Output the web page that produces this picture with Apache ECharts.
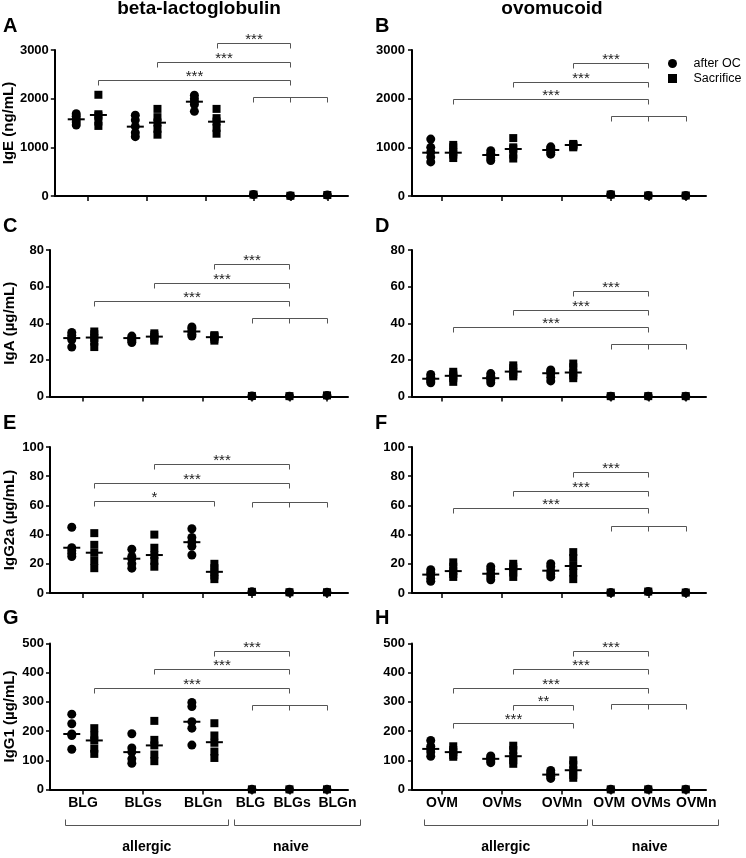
<!DOCTYPE html>
<html><head><meta charset="utf-8">
<script src="https://cdn.jsdelivr.net/npm/echarts@6/dist/echarts.min.js"></script>
<style>html,body{margin:0;padding:0;background:#fff}#c{width:746px;height:858px}</style>
</head><body><div id="c"></div><script>
// ---------- DATA ----------
const columnTitles = ['beta-lactoglobulin', 'ovomucoid'];
const panelLetters = ['A','B','C','D','E','F','G','H'];
const yNames = ['IgE (ng/mL)', 'IgA (µg/mL)', 'IgG2a (µg/mL)', 'IgG1 (µg/mL)'];
const yMax = [3000, 80, 100, 500];
const yStep = [1000, 20, 20, 100];
const labelsBLG = ['BLG','BLGs','BLGn','BLG','BLGs','BLGn'];
const labelsOVM = ['OVM','OVMs','OVMn','OVM','OVMs','OVMn'];
const groupNames = ['allergic','naive'];
const legendNames = ['after OC','Sacrifice'];

// IgE
const IgE_BLG_OC = [[1690,1640,1580,1520,1460],[1660,1560,1430,1300,1220],[2070,2000,1940,1880,1740]];
const IgE_BLG_S  = [[2080,1680,1650,1530,1440],[1790,1620,1510,1380,1260],[1790,1600,1530,1400,1280]];
const IgE_BLG_medOC = [1576,1425,1938];
const IgE_BLG_medS  = [1665,1507,1527];
const IgE_BLG_naive = [30,5,20];
const IgE_BLG_brackets = [['S2','N1',3144,'***'],['S1','N1',2753,'***'],['S0','N1',2384,'***'],['N0','N2',2034,'']];

const IgE_OVM_OC = [[1170,1000,900,800,700],[930,870,840,780,730],[1010,980,950,900,860]];
const IgE_OVM_S  = [[1050,1000,900,850,780],[1190,1000,970,850,770],[1070,1050,1040,1020,1000]];
const IgE_OVM_medOC = [890,842,945];
const IgE_OVM_medS  = [890,966,1048];
const IgE_OVM_naive = [30,10,10];
const IgE_OVM_brackets = [['S2','N1',2733,'***'],['S1','N1',2342,'***'],['S0','N1',1993,'***'],['N0','N2',1644,'']];

// IgA
const IgA_BLG_OC = [[35,33.5,32,31,27],[33,32,31.5,30.5,29.5],[38,37,35.5,34,33]];
const IgA_BLG_S  = [[35.5,34,32,30,27],[34.5,33.5,32.5,31.5,30.5],[33.5,33,32.5,31.5,30.5]];
const IgA_BLG_medOC = [31.9,31.9,35.5];
const IgA_BLG_medS  = [32.2,32.7,32.4];
const IgA_BLG_naive = [0.3,0.2,0.6];
const IgA_BLG_brackets = [['S2','N1',72.2,'***'],['S1','N1',61.9,'***'],['S0','N1',52.2,'***'],['N0','N2',43.1,'']];

const IgA_OVM_OC = [[12,10.5,9.5,8.5,7.5],[12.5,11,10,9,7.5],[14.5,13.5,12.5,10.5,8.5]];
const IgA_OVM_S  = [[13.5,12,11,10,8],[17,15.5,13.5,12,11],[18,16,13,11.5,10]];
const IgA_OVM_medOC = [9.7,10,12.7];
const IgA_OVM_medS  = [11.3,13.6,13.1];
const IgA_OVM_naive = [0.2,0.2,0.2];
const IgA_OVM_brackets = [['S2','N1',57.8,'***'],['S1','N1',47.3,'***'],['S0','N1',37.9,'***'],['N0','N2',28.6,'']];

// IgG2a
const IgG2a_BLG_OC = [[45,31,29,27,25],[30,25,23.5,20,17],[44,38,35,32,26]];
const IgG2a_BLG_S  = [[41,33,27.5,22,17],[40,31,26,22,18],[20,17,14.5,12,9.5]];
const IgG2a_BLG_medOC = [31,23.5,34.8];
const IgG2a_BLG_medS  = [27.6,26,14.5];
const IgG2a_BLG_naive = [0.8,0.5,0.5];
const IgG2a_BLG_brackets = [['S1','N1',88.2,'***'],['S0','N1',75.1,'***'],['S0','S2',63.2,'*'],['N0','N2',62.1,'']];

const IgG2a_OVM_OC = [[16,14,12.5,10,8],[18,16,13,11,9],[20,18,15,13,11]];
const IgG2a_OVM_S  = [[21,18,15,13,11],[20,18,16.5,14,11],[28,24,18.5,14,9.5]];
const IgG2a_OVM_medOC = [12.6,13.2,15.3];
const IgG2a_OVM_medS  = [15,16.4,18.5];
const IgG2a_OVM_naive = [0.3,1,0.3];
const IgG2a_OVM_brackets = [['S2','N1',82.9,'***'],['S1','N1',70.1,'***'],['S0','N1',58.0,'***'],['N0','N2',46.1,'']];

// IgG1
const IgG1_BLG_OC = [[258,225,190,185,138],[191,142,128,105,90],[298,284,232,210,152]];
const IgG1_BLG_S  = [[210,185,168,140,122],[235,170,151,120,97],[227,185,160,130,108]];
const IgG1_BLG_medOC = [190,128,232];
const IgG1_BLG_medS  = [168,151,162];
const IgG1_BLG_naive = [0.5,0.5,0.5];
const IgG1_BLG_brackets = [['S2','N1',474,'***'],['S1','N1',412,'***'],['S0','N1',349,'***'],['N0','N2',289,'']];

const IgG1_OVM_OC = [[168,148,139,128,114],[115,110,105,98,92],[65,57,51,45,38]];
const IgG1_OVM_S  = [[148,135,128,118,112],[150,135,114,100,88],[100,85,66,50,40]];
const IgG1_OVM_medOC = [139,105,51];
const IgG1_OVM_medS  = [128,114,66];
const IgG1_OVM_naive = [0.5,0.5,0.5];
const IgG1_OVM_brackets = [['S2','N1',475,'***'],['S1','N1',413,'***'],['S0','N1',349,'***'],['S1','S2',289,'**'],['S0','S2',227,'***'],['N0','N2',293,'']];

// ---------- LAYOUT ----------
const FONT = 'Liberation Sans';
const ROWS = [{top:50,h:146},{top:250,h:146.5},{top:447,h:146},{top:643.5,h:146}];
const COLS = [{left:50,w:298,min:-2.9,max:36.8},{left:412,w:294,min:-2.5,max:36.7}];
const TICKS = [1.5,9.5,17.5,24,29,34];
const LABEL_POS = [1.5,9.5,17.5,23.8,29.35,35.4];
function xOf(key){ const t=key[0], i=+key.slice(1); return t==='O'?8*i : t==='S'?8*i+3 : 24+5*i; }

const panels = [
  [IgE_BLG_OC,IgE_BLG_S,IgE_BLG_medOC,IgE_BLG_medS,IgE_BLG_naive,IgE_BLG_brackets],
  [IgE_OVM_OC,IgE_OVM_S,IgE_OVM_medOC,IgE_OVM_medS,IgE_OVM_naive,IgE_OVM_brackets],
  [IgA_BLG_OC,IgA_BLG_S,IgA_BLG_medOC,IgA_BLG_medS,IgA_BLG_naive,IgA_BLG_brackets],
  [IgA_OVM_OC,IgA_OVM_S,IgA_OVM_medOC,IgA_OVM_medS,IgA_OVM_naive,IgA_OVM_brackets],
  [IgG2a_BLG_OC,IgG2a_BLG_S,IgG2a_BLG_medOC,IgG2a_BLG_medS,IgG2a_BLG_naive,IgG2a_BLG_brackets],
  [IgG2a_OVM_OC,IgG2a_OVM_S,IgG2a_OVM_medOC,IgG2a_OVM_medS,IgG2a_OVM_naive,IgG2a_OVM_brackets],
  [IgG1_BLG_OC,IgG1_BLG_S,IgG1_BLG_medOC,IgG1_BLG_medS,IgG1_BLG_naive,IgG1_BLG_brackets],
  [IgG1_OVM_OC,IgG1_OVM_S,IgG1_OVM_medOC,IgG1_OVM_medS,IgG1_OVM_naive,IgG1_OVM_brackets]
];

const grid=[], xAxis=[], yAxis=[], series=[], graphic=[];
const BR = '#555';
function ln(x1,y1,x2,y2){ return {type:'line', shape:{x1:x1,y1:y1,x2:x2,y2:y2}, style:{stroke:BR, lineWidth:1}}; }

panels.forEach((p,i)=>{
  const r=Math.floor(i/2), c=i%2, R=ROWS[r], C=COLS[c];
  const [oc,s,mOC,mS,naive,br]=p;
  const labels = c===0?labelsBLG:labelsOVM;
  grid.push({left:C.left, top:R.top, width:C.w, height:R.h});
  xAxis.push({type:'value', gridIndex:i, min:C.min, max:C.max, splitLine:{show:false},
    axisLine:{show:true, onZero:false, lineStyle:{color:'#000', width:2}},
    axisTick:{show:true, customValues:TICKS, length:5, lineStyle:{color:'#000', width:1.5}},
    axisLabel:{show:r===3, customValues:LABEL_POS, margin:7, color:'#000', fontFamily:FONT, fontWeight:'bold', fontSize:14, hideOverlap:false,
      showMinLabel:true, showMaxLabel:true,
      formatter:v=>{ const k=LABEL_POS.findIndex(t=>Math.abs(t-v)<0.01); return k>=0?labels[k]:''; }}
  });
  yAxis.push({type:'value', gridIndex:i, min:0, max:yMax[r], interval:yStep[r], splitLine:{show:false},
    axisLine:{show:true, onZero:false, lineStyle:{color:'#000', width:2}},
    axisTick:{show:true, length:4, lineStyle:{color:'#000', width:1.5}},
    axisLabel:{margin:c===0?6:7, color:'#000', fontFamily:FONT, fontWeight:'bold', fontSize:13, formatter:v=>String(v)},
    name:c===0?yNames[r]:'', nameLocation:'middle', nameGap:33, nameRotate:90,
    nameTextStyle:{color:'#000', fontFamily:FONT, fontWeight:'bold', fontSize:15}
  });
  const ocData=[], sData=[], med=[];
  oc.forEach((arr,g)=>arr.forEach(v=>ocData.push([xOf('O'+g),v])));
  s.forEach((arr,g)=>arr.forEach(v=>sData.push([xOf('S'+g),v])));
  naive.forEach((v,k)=>{ ocData.push([xOf('N'+k),v]); sData.push([xOf('N'+k),v]); });
  mOC.forEach((v,g)=>med.push([xOf('O'+g),v]));
  mS.forEach((v,g)=>med.push([xOf('S'+g),v]));
  series.push({type:'scatter', name:legendNames[0], xAxisIndex:i, yAxisIndex:i, data:ocData, symbol:'circle', symbolSize:9, itemStyle:{color:'#000', opacity:1}, silent:true, z:3});
  series.push({type:'scatter', name:legendNames[1], xAxisIndex:i, yAxisIndex:i, data:sData, symbol:'rect', symbolSize:8, itemStyle:{color:'#000', opacity:1}, silent:true, z:3});
  series.push({type:'scatter', name:'median', xAxisIndex:i, yAxisIndex:i, data:med, symbol:'rect', symbolSize:[17,2], itemStyle:{color:'#000', opacity:1}, silent:true, z:4});
  series.push({type:'custom', name:'brackets', xAxisIndex:i, yAxisIndex:i, silent:true, clip:false,
    data:br.map(b=>[xOf(b[0]),xOf(b[1]),b[2]]), encode:{x:[0,1], y:2},
    renderItem:(params,api)=>{
      const b=br[params.dataIndex];
      const y=api.value(2);
      const p1=api.coord([api.value(0),y]), p2=api.coord([api.value(1),y]);
      const yy=Math.round(p1[1])+0.5;
      const x1=Math.round(p1[0])+0.5, x2=Math.round(p2[0])+0.5;
      const ch=[ln(x1,yy,x2,yy), ln(x1,yy,x1,yy+5), ln(x2,yy,x2,yy+5)];
      if(b[0]==='N0' && b[1]==='N2'){ const pm=api.coord([xOf('N1'),y]); const xm=Math.round(pm[0])+0.5; ch.push(ln(xm,yy,xm,yy+5)); }
      if(b[3]) ch.push({type:'text', style:{text:b[3], x:(x1+x2)/2, y:yy-4, align:'center', verticalAlign:'middle', fontSize:15, fontFamily:FONT, fill:'#222'}});
      return {type:'group', children:ch};
    }
  });
  if(r===3){
    const G=[{from:-0.9,to:20.85,lx:10},{from:21.55,to:38.35,lx:29.2}];
    series.push({type:'custom', name:'groups', xAxisIndex:i, yAxisIndex:i, silent:true, clip:false,
      data:G.map(g=>[g.from,g.to,0]), encode:{x:[0,1], y:2},
      renderItem:(params,api)=>{
        const g=G[params.dataIndex];
        const p1=api.coord([api.value(0),0]), p2=api.coord([api.value(1),0]), pl=api.coord([g.lx,0]);
        const yy=Math.round(p1[1]+35)+0.5, x1=Math.round(p1[0])+0.5, x2=Math.round(p2[0])+0.5;
        return {type:'group', children:[ln(x1,yy,x2,yy), ln(x1,yy,x1,yy-6), ln(x2,yy,x2,yy-6),
          {type:'text', style:{text:groupNames[params.dataIndex], x:pl[0], y:p1[1]+58, align:'center', verticalAlign:'middle', fontSize:14, fontWeight:'bold', fontFamily:FONT, fill:'#000'}}]};
      }
    });
  }
  const lx = c===0?3:375;
  const ly = [27,227,424,619][r];
  graphic.push({type:'text', left:lx, top:ly-11, style:{text:panelLetters[i], fontSize:20, fontWeight:'bold', fontFamily:FONT, fill:'#000'}});
});
graphic.push({type:'text', x:199, y:9, style:{text:columnTitles[0], align:'center', verticalAlign:'middle', fontSize:19, fontWeight:'bold', fontFamily:FONT, fill:'#000'}});
graphic.push({type:'text', x:552, y:9, style:{text:columnTitles[1], align:'center', verticalAlign:'middle', fontSize:19, fontWeight:'bold', fontFamily:FONT, fill:'#000'}});

const chart = echarts.init(document.getElementById('c'), null, {renderer:'canvas'});
chart.setOption({
  animation:false, backgroundColor:'#fff',
  grid, xAxis, yAxis, series, graphic,
  legend:{orient:'vertical', left:663, top:52, itemWidth:32, itemHeight:9, itemGap:2, selectedMode:false,
    data:[{name:legendNames[0], icon:'circle'},{name:legendNames[1], icon:'path://M0,0H8V8H0Z'}],
    symbolKeepAspect:true,
    textStyle:{fontSize:12.5, fontFamily:FONT, color:'#000'}}
});
</script></body></html>
